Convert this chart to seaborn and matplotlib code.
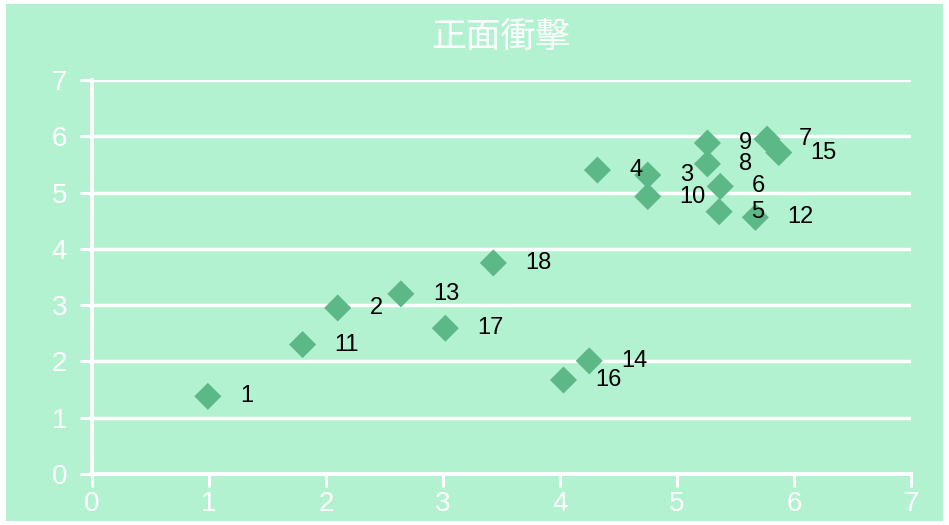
import matplotlib
matplotlib.use("Agg")
import matplotlib.pyplot as plt
import seaborn as sns
import pandas as pd
from matplotlib.patches import Rectangle

# point labels and coordinates
labels = ["1", "2", "3", "4", "5", "6", "7", "8", "9", "10",
          "11", "12", "13", "14", "15", "16", "17", "18"]
x_vals = [0.99, 2.10, 4.75, 4.32, 5.36, 5.37, 5.77, 5.26, 5.26, 4.75,
          1.80, 5.67, 2.64, 4.25, 5.87, 4.03, 3.02, 3.43]
y_vals = [1.38, 2.95, 5.31, 5.40, 4.66, 5.11, 5.95, 5.51, 5.88, 4.93,
          2.30, 4.56, 3.20, 2.01, 5.71, 1.67, 2.59, 3.75]
title = "正面衝擊"

bg = "#b3f2d1"
marker_color = "#5cb886"

df = pd.DataFrame({"x": x_vals, "y": y_vals, "label": labels})

sns.set_theme(style="white")
plt.rcParams["font.family"] = ["Liberation Sans", "DejaVu Sans"]

fig = plt.figure(figsize=(9.49, 5.25), dpi=100, facecolor="white")
# green panel inside a thin white frame
fig.patches.append(Rectangle((6 / 949, 4 / 525), 937 / 949, 517 / 525,
                             transform=fig.transFigure, facecolor=bg,
                             edgecolor="none", zorder=-10))
ax = fig.add_axes([92 / 949, 51 / 525, 819 / 949, 394 / 525])
ax.set_zorder(1)
ax.set_facecolor("none")

sns.scatterplot(data=df, x="x", y="y", marker="D", s=190, color=marker_color,
                edgecolor="none", ax=ax, zorder=3)

for _, r in df.iterrows():
    ax.annotate(r["label"], (r["x"], r["y"]), xytext=(23, 0),
                textcoords="offset points", va="center", ha="left",
                fontsize=17, color="black", zorder=4)

ax.set_xlim(0, 7)
ax.set_ylim(0, 7)
ax.set_xticks(range(8))
ax.set_yticks(range(8))
ax.set_xlabel("")
ax.set_ylabel("")

ax.yaxis.grid(True, color="white", linewidth=2.5)
ax.xaxis.grid(False)
ax.set_axisbelow(True)

for side in ["top", "right"]:
    ax.spines[side].set_visible(False)
for side in ["left", "bottom"]:
    ax.spines[side].set_color("white")
    ax.spines[side].set_linewidth(2.8)

ax.tick_params(axis="x", colors="white", labelsize=20, length=9, width=2.2,
               direction="out", pad=3, bottom=True)
ax.tick_params(axis="y", colors="white", labelsize=20, length=9, width=2.2,
               direction="out", pad=9, left=True)

# title is letter-spaced in the original, so a touch larger here
fig.text(501 / 949, 1 - 38 / 525, title, color="white", fontsize=25,
         fontweight="light", ha="center", va="center",
         family=["Noto Sans CJK TC", "DejaVu Sans"])

fig.savefig("out.png", dpi=100, facecolor="white")
